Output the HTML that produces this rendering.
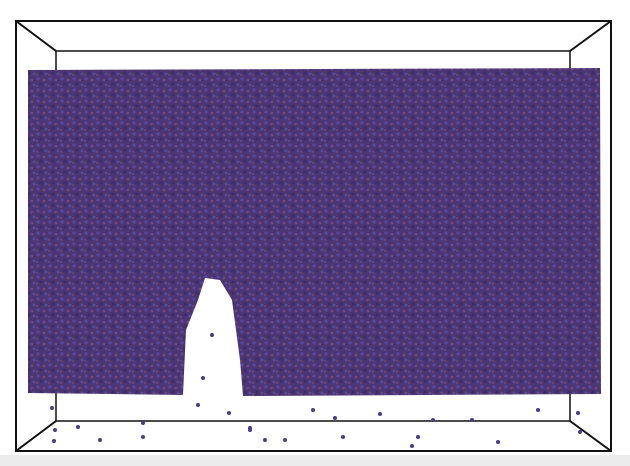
<!DOCTYPE html>
<html><head><meta charset="utf-8"><style>
html,body{margin:0;padding:0;background:#fff;width:630px;height:466px;overflow:hidden}
</style></head><body>
<svg width="630" height="466" viewBox="0 0 630 466" xmlns="http://www.w3.org/2000/svg">
<defs>
<pattern id="mol" width="12" height="11" patternUnits="userSpaceOnUse">
<rect width="12" height="11" fill="#4b3673"/>
<circle cx="2" cy="2" r="1.6" fill="#5a48a0"/>
<circle cx="8" cy="3" r="1.3" fill="#7a4a7a"/>
<circle cx="5" cy="7" r="1.6" fill="#3d2c66"/>
<circle cx="10" cy="8" r="1.4" fill="#5b4c9a"/>
<circle cx="1" cy="9" r="1.1" fill="#6e4478"/>
</pattern>
</defs>
<rect x="0" y="455" width="630" height="11" fill="#ececec"/>
<g stroke="#111" stroke-width="2" fill="none">
<rect x="16" y="21" width="595" height="430"/>
<rect x="56" y="51" width="514" height="370" stroke-width="1.5"/>
<line x1="16" y1="21" x2="56" y2="51"/>
<line x1="611" y1="21" x2="570" y2="51"/>
<line x1="16" y1="451" x2="56" y2="421"/>
<line x1="611" y1="451" x2="570" y2="421"/>
</g>
<path fill="url(#mol)" d="M28,70 L600,68 L601,394 L243,396 L240,360 L232,300 L220,280 L205,278 L198,300 L186,330 L183,395 L28,393 Z"/>
<g fill="#4a3c8a">
<circle cx="212" cy="335" r="2"/><circle cx="203" cy="378" r="2"/><circle cx="198" cy="405" r="2"/>
<circle cx="229" cy="413" r="2"/><circle cx="250" cy="430" r="2"/><circle cx="265" cy="440" r="2"/>
<circle cx="52" cy="408" r="2"/><circle cx="55" cy="430" r="2"/><circle cx="78" cy="427" r="2"/>
<circle cx="54" cy="441" r="2"/><circle cx="100" cy="440" r="2"/><circle cx="143" cy="423" r="2"/>
<circle cx="143" cy="437" r="2"/><circle cx="250" cy="428" r="2"/><circle cx="285" cy="440" r="2"/>
<circle cx="313" cy="410" r="2"/><circle cx="335" cy="418" r="2"/><circle cx="343" cy="437" r="2"/>
<circle cx="380" cy="414" r="2"/><circle cx="412" cy="446" r="2"/><circle cx="418" cy="437" r="2"/>
<circle cx="433" cy="420" r="2"/><circle cx="472" cy="420" r="2"/><circle cx="498" cy="442" r="2"/>
<circle cx="538" cy="410" r="2"/><circle cx="578" cy="413" r="2"/><circle cx="580" cy="432" r="2"/>
</g>
</svg>
</body></html>
